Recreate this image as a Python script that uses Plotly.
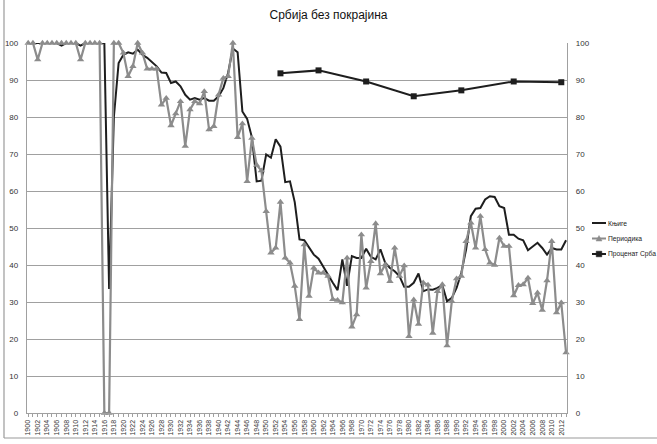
import plotly.graph_objects as go

# ---------------- data ----------------
years = list(range(1900, 2014))

knjige = [
    100, 100, 100, 100, 100, 100, 100, 99.3, 100, 100,          # 1900-1909
    100, 99.3, 100, 100, 100, 100, 100, 33.5, 80, 94.6,         # 1910-1919
    96.8, 97.5, 97.1, 98.2, 96.8, 96, 94.9, 93.7, 92, 91.9,     # 1920-1929
    89.2, 89.6, 88.3, 86, 84.7, 85.1, 84.7, 85.1, 84.4, 84.4,   # 1930-1939
    85.6, 87.8, 91.9, 98.5, 97.5, 81.5, 79.5, 74.5, 62.6, 62.8, # 1940-1949
    69.9, 69, 74, 72, 62.4, 62.6, 57, 46.9, 46.7, 44.6,         # 1950-1959
    42.8, 41.7, 39.5, 37.1, 35.2, 33.2, 41.5, 34.4, 42.4, 41.9, # 1960-1969
    41.9, 44.4, 42.2, 41.5, 44.2, 40.6, 39.2, 38.3, 37, 34.1,   # 1970-1979
    34.1, 35.2, 37.7, 32.9, 33.4, 33.3, 33.8, 34.6, 30.2, 31.1, # 1980-1989
    33.8, 37.9, 44.2, 53.2, 55.2, 55.4, 57.7, 58.6, 58.4, 55.9, # 1990-1999
    55.4, 48.2, 48.2, 47.1, 46.7, 44, 45.1, 46, 44.6, 42.8,     # 2000-2009
    44.6, 44.2, 44.2, 46.7,                                     # 2010-2013
]

periodika = [
    100, 100, 95.5, 100, 100, 100, 100, 100, 100, 100,          # 1900-1909
    100, 95.5, 100, 100, 100, 100, 0, 0, 100, 100,              # 1910-1919
    97.3, 91, 93.7, 100, 97.3, 93, 93, 93, 83.3, 85.1,          # 1920-1929
    77.7, 80.9, 84.2, 72.1, 82, 84.2, 83.6, 86.9, 76.6, 77.5,   # 1930-1939
    86, 90.5, 91, 100, 74.5, 78.2, 62.6, 74.3, 67, 65.5,        # 1940-1949
    54.5, 43.3, 44.6, 57, 41.9, 40.6, 34.3, 25.3, 45.5, 31.6,   # 1950-1959
    39.2, 37.9, 37.9, 37, 30.7, 30.5, 29.8, 41.9, 23.3, 26.6,   # 1960-1969
    48.2, 33.8, 41, 51.2, 37.7, 40.1, 35.6, 44.6, 37, 39.8,     # 1970-1979
    20.7, 30.6, 24, 35.2, 34.6, 21.6, 32.9, 34.7, 18.2, 30.2,   # 1980-1989
    36.3, 37, 46.4, 51.4, 44.6, 53.2, 44.2, 40.6, 40, 47.3,     # 1990-1999
    45.1, 45.1, 31.7, 34.5, 34.7, 36.5, 29.6, 32.5, 27.8, 35.8, # 2000-2009
    46.4, 27.1, 29.8, 16.3,                                     # 2010-2013
]

census_years = [1953, 1961, 1971, 1981, 1991, 2002, 2012]
procenat_srba = [91.8, 92.6, 89.6, 85.6, 87.2, 89.6, 89.4]

x_ticks = list(range(1900, 2013, 2))
y_ticks = list(range(0, 101, 10))

names = ["Књиге", "Периодика", "Проценат Срба"]
title = "Србија без покрајина"

# ---------------- style ----------------
BLACK = "#1e1e1e"
GRAY = "#8c8c8c"
GRID = "#a0a0a0"
FONT = "Liberation Sans"

W, H = 657, 444
ML, MR, MT, MB = 27, 90, 43, 31
PW, PH = W - ML - MR, H - MT - MB


def px(xp):
    return (xp - ML) / PW


def py(yp):
    return (H - MB - yp) / PH


fig = go.Figure()
fig.add_trace(go.Scatter(
    x=years, y=knjige, mode="lines", name=names[0],
    line=dict(color=BLACK, width=2), cliponaxis=False, showlegend=False))
fig.add_trace(go.Scatter(
    x=years, y=periodika, mode="lines+markers", name=names[1],
    line=dict(color=GRAY, width=2.2),
    marker=dict(symbol="triangle-up", size=6.5, color=GRAY),
    cliponaxis=False, showlegend=False))
fig.add_trace(go.Scatter(
    x=census_years, y=procenat_srba, mode="lines+markers", name=names[2],
    line=dict(color=BLACK, width=2),
    marker=dict(symbol="square", size=6, color=BLACK),
    cliponaxis=False, showlegend=False, yaxis="y2"))

fig.update_layout(
    width=W, height=H,
    margin=dict(l=ML, r=MR, t=MT, b=MB, autoexpand=False),
    paper_bgcolor="white", plot_bgcolor="white",
    font=dict(family=FONT, size=8, color="#222"),
    title=dict(text=title, x=0.5, xanchor="center", y=1 - 15 / H,
               yanchor="middle", font=dict(family=FONT, size=12, color="#111")),
    xaxis=dict(
        range=[1899.75, 2013.2], tickvals=x_ticks, ticktext=[str(v) for v in x_ticks],
        tickangle=-90, tickfont=dict(size=7, color="#333"),
        ticks="outside", ticklen=3, tickcolor=GRID,
        minor=dict(dtick=1, ticks="outside", ticklen=3, tickcolor=GRID),
        showgrid=False, zeroline=False,
        showline=True, linecolor=GRID, linewidth=1.3,
    ),
    yaxis=dict(
        range=[0, 100], tickvals=y_ticks, tickfont=dict(size=8, color="#333"),
        showgrid=True, gridcolor=GRID, gridwidth=1.3, zeroline=False,
        showline=True, linecolor=GRID, linewidth=1.3,
        ticklabelstandoff=6,
    ),
    yaxis2=dict(
        range=[0, 100], tickvals=y_ticks, tickfont=dict(size=8, color="#333"),
        overlaying="y", side="right", showgrid=False, zeroline=False,
        showline=True, linecolor=GRID, linewidth=1.3,
        ticklabelstandoff=6,
    ),
)

shapes = []
annotations = []
# outer chart border (left and bottom visible)
shapes.append(dict(type="line", xref="paper", yref="paper",
                   x0=px(4), x1=px(4), y0=py(438), y1=py(0),
                   line=dict(color="#9a9a9a", width=1.2)))
shapes.append(dict(type="line", xref="paper", yref="paper",
                   x0=px(4), x1=px(657), y0=py(438), y1=py(438),
                   line=dict(color="#9a9a9a", width=1.2)))

# manual legend
leg_y = [223, 238.5, 254]
leg_col = [BLACK, GRAY, BLACK]
lx0, lx1, tx = 592, 606, 607
for i in range(3):
    shapes.append(dict(type="line", xref="paper", yref="paper",
                       x0=px(lx0), x1=px(lx1), y0=py(leg_y[i]), y1=py(leg_y[i]),
                       line=dict(color=leg_col[i], width=2)))
    annotations.append(dict(text=names[i], xref="paper", yref="paper",
                            x=px(tx), y=py(leg_y[i]), xanchor="left", yanchor="middle",
                            showarrow=False, borderpad=0,
                            font=dict(family=FONT, size=6.7, color="#222")))
# triangle marker for periodika
cx, cy = 599, leg_y[1]
shapes.append(dict(type="path", xref="paper", yref="paper",
                   path=f"M {px(cx-3)} {py(cy+2.5)} L {px(cx+3)} {py(cy+2.5)} L {px(cx)} {py(cy-3)} Z",
                   fillcolor=GRAY, line=dict(color=GRAY, width=0.5)))
# square marker for procenat
cx, cy = 599, leg_y[2]
shapes.append(dict(type="rect", xref="paper", yref="paper",
                   x0=px(cx - 2.8), x1=px(cx + 2.8), y0=py(cy + 2.8), y1=py(cy - 2.8),
                   fillcolor=BLACK, line=dict(color=BLACK, width=0.5)))

fig.update_layout(shapes=shapes, annotations=annotations)

fig.write_html("out.html", config={"displayModeBar": False},
               post_script="document.body.style.margin='0px';document.body.style.padding='0px';")
